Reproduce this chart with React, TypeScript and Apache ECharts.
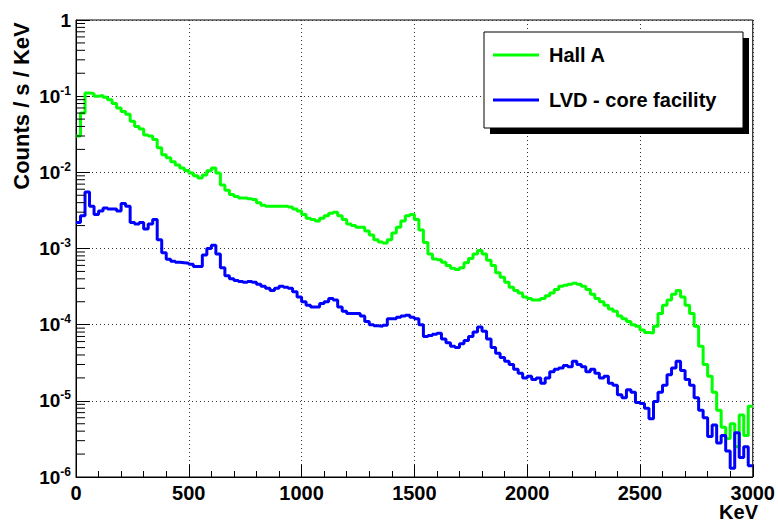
import React, { useEffect, useRef } from "react";
import * as echarts from "echarts";

const BIN_WIDTH = 20; // keV per bin, bins start at 0 keV

const hallA: number[] = [
  0.03, 0.06, 0.11, 0.108, 0.1, 0.102, 0.097, 0.09, 0.08, 0.07,
  0.063, 0.058, 0.047, 0.04, 0.037, 0.031, 0.03, 0.027, 0.021, 0.017,
  0.0155, 0.0138, 0.0125, 0.0114, 0.0106, 0.0098, 0.009, 0.0084, 0.0092, 0.0105,
  0.0114, 0.0098, 0.0068, 0.0058, 0.0051, 0.0048, 0.0046, 0.0046, 0.0045, 0.0044,
  0.004, 0.0037, 0.0036, 0.0036, 0.0036, 0.0036, 0.0036, 0.0035, 0.0033, 0.0031,
  0.0028, 0.0025, 0.0024, 0.0023, 0.0025, 0.0027, 0.0029, 0.003, 0.0027, 0.0024,
  0.0021, 0.002, 0.0019, 0.0019, 0.0017, 0.0015, 0.0013, 0.00122, 0.00118, 0.0013,
  0.0016, 0.0019, 0.0023, 0.0027, 0.0028, 0.0024, 0.00175, 0.0012, 0.00085, 0.00073,
  0.00071, 0.00066, 0.0006, 0.00055, 0.00053, 0.00056, 0.00065, 0.00074, 0.00085, 0.00094,
  0.00085, 0.0007, 0.0006, 0.00048, 0.00042, 0.00036, 0.00031, 0.00028, 0.00026, 0.00023,
  0.00022, 0.00021, 0.00021, 0.00022, 0.00024, 0.00026, 0.00029, 0.00032, 0.00033, 0.00034,
  0.00035, 0.00034, 0.00032, 0.00029, 0.00025, 0.00022, 0.0002, 0.00018, 0.00016, 0.00015,
  0.00013, 0.00012, 0.00011, 0.0001, 0.000095, 0.000085, 0.000079, 0.000078, 0.000095, 0.00014,
  0.00018, 0.00021, 0.00025, 0.00028, 0.00023, 0.00018, 0.00014, 0.000095, 0.000052, 0.00003,
  0.000021, 0.000013, 0.0000075, 0.0000045, 0.0000032, 0.000005, 0.0000025, 0.0000065, 0.0000035, 0.0000085,
];

const lvd: number[] = [
  0.0022, 0.0027, 0.0055, 0.0036, 0.0028, 0.0031, 0.0034, 0.0033, 0.0033, 0.0031,
  0.0039, 0.0036, 0.0022, 0.0021, 0.0022, 0.0018, 0.0021, 0.0024, 0.0013, 0.00088,
  0.00072, 0.00068, 0.00066, 0.00065, 0.00064, 0.00062, 0.00058, 0.00058, 0.00082, 0.001,
  0.0011, 0.00085, 0.00056, 0.00044, 0.0004, 0.00038, 0.00037, 0.00036, 0.00037, 0.00036,
  0.00034, 0.00032, 0.0003, 0.00028, 0.0003, 0.00032, 0.00031, 0.0003, 0.00027, 0.00023,
  0.0002, 0.00018, 0.00017, 0.00017, 0.00019, 0.0002, 0.00022, 0.00021, 0.00017, 0.00015,
  0.00014, 0.00014, 0.00014, 0.00013, 0.00011, 0.0001, 0.000097, 0.000095, 0.000098, 0.00012,
  0.00012, 0.000125, 0.00013, 0.000133, 0.000125, 0.00012, 0.0001, 0.00007, 0.000072, 0.000075,
  0.000077, 0.000065, 0.000058, 0.000052, 0.00005, 0.000056, 0.000062, 0.00007, 0.00008, 0.000093,
  0.000082, 0.000065, 0.00005, 0.000042, 0.000037, 0.000033, 0.00003, 0.000026, 0.000023, 0.00002,
  0.000021, 0.000019, 0.00002, 0.000017, 0.00002, 0.000024, 0.000026, 0.000027, 0.000029, 0.000028,
  0.000033, 0.00003, 0.000028, 0.000024, 0.000026, 0.000023, 0.00002, 0.000021, 0.000017, 0.000016,
  0.000012, 0.000011, 0.000014, 0.000013, 0.0000095, 0.0000092, 0.000008, 0.0000058, 0.0000098, 0.000013,
  0.000016, 0.000022, 0.000027, 0.000033, 0.000025, 0.000019, 0.000016, 0.000011, 0.0000075, 0.000006,
  0.0000034, 0.0000048, 0.0000028, 0.0000035, 0.0000022, 0.0000013, 0.0000038, 0.0000018, 0.0000025, 0.0000014,
];

const seriesNames = ["Hall A", "LVD - core facility"];
const seriesColors = ["#00ff00", "#0000ff"];
const xTicks = { min: 0, max: 3000, interval: 500 };
const yRange = { min: 1e-6, max: 1 };

const FONT = "'Liberation Sans', Arial, Helvetica, sans-serif";

function toSteps(values: number[]): [number, number][] {
  const pts: [number, number][] = values.map((v, i) => [i * BIN_WIDTH, v]);
  pts.push([values.length * BIN_WIDTH, values[values.length - 1]]);
  return pts;
}

function minorLogTicks(): [number, number][] {
  const out: [number, number][] = [];
  for (let e = -6; e < 0; e++) {
    for (let m = 2; m <= 9; m++) out.push([0, m * Math.pow(10, e)]);
  }
  return out;
}

export default function App() {
  const ref = useRef<HTMLDivElement>(null);
  useEffect(() => {
    if (!ref.current) return;
    const chart = echarts.init(ref.current, undefined, { renderer: "svg" });
    const option: any = {
      animation: false,
      backgroundColor: "#ffffff",
      grid: {
        left: 76,
        top: 20,
        right: 20,
        bottom: 46,
        show: true,
        borderColor: "#000",
        borderWidth: 1,
        backgroundColor: "transparent",
      },
      legend: {
        show: true,
        z: 30,
        data: seriesNames,
        orient: "vertical",
        left: 493,
        top: 45,
        padding: 0,
        itemWidth: 46,
        itemHeight: 3,
        itemGap: 25,
        icon: "rect",
        textStyle: {
          fontFamily: FONT,
          fontWeight: "bold",
          fontSize: 20,
          color: "#000",
          padding: [0, 0, 0, 5],
        },
        selectedMode: false,
      },
      xAxis: {
        type: "value",
        min: xTicks.min,
        max: xTicks.max,
        interval: xTicks.interval,
        axisLine: { show: true, onZero: false, lineStyle: { color: "#000", width: 1 } },
        axisTick: { show: true, inside: true, length: 12, lineStyle: { color: "#000" } },
        minorTick: { show: true, splitNumber: 5, length: 6, lineStyle: { color: "#000" } },
        axisLabel: {
          fontFamily: FONT,
          fontWeight: "bold",
          fontSize: 20,
          color: "#000",
          margin: 6,
          showMaxLabel: true,
          showMinLabel: true,
          formatter: (v: number) => String(v),
        },
        splitLine: { show: true, lineStyle: { color: "#333", type: [1, 3], width: 1 } },
      },
      yAxis: {
        type: "log",
        logBase: 10,
        min: yRange.min,
        max: yRange.max,
        splitNumber: 6,
        axisLine: { show: true, lineStyle: { color: "#000", width: 1 } },
        axisTick: { show: true, inside: true, length: 14, lineStyle: { color: "#000" } },
        axisLabel: {
          margin: 5,
          color: "#000",
          formatter: (v: number) => {
            const e = Math.round(Math.log10(v));
            if (e === 0) return "{b|1}";
            return "{b|10}{s|" + e + "}";
          },
          rich: {
            b: { fontFamily: FONT, fontWeight: "bold", fontSize: 19, color: "#000" },
            s: {
              fontFamily: FONT,
              fontWeight: "bold",
              fontSize: 12,
              color: "#000",
              padding: [0, 0, 11, 0],
            },
          },
        },
        splitLine: { show: true, lineStyle: { color: "#333", type: [1, 3], width: 1 } },
      },
      series: [
        {
          name: seriesNames[0],
          type: "line",
          step: "end",
          data: toSteps(hallA),
          symbol: "none",
          lineStyle: { color: seriesColors[0], width: 3 },
          itemStyle: { color: seriesColors[0] },
          clip: true,
          z: 3,
        },
        {
          name: seriesNames[1],
          type: "line",
          step: "end",
          data: toSteps(lvd),
          symbol: "none",
          lineStyle: { color: seriesColors[1], width: 3 },
          itemStyle: { color: seriesColors[1] },
          clip: true,
          z: 4,
        },
        {
          name: "minorTicks",
          type: "custom",
          silent: true,
          data: minorLogTicks(),
          renderItem: (_params: any, api: any) => {
            const p = api.coord([0, api.value(1)]);
            return {
              type: "line",
              shape: { x1: p[0], y1: p[1], x2: p[0] + 9, y2: p[1] },
              style: { stroke: "#000", lineWidth: 1 },
            };
          },
          z: 5,
        },
      ],
      graphic: [
        {
          type: "rect",
          shape: { x: 490, y: 38, width: 259, height: 96 },
          style: { fill: "#000" },
          z: 10,
        },
        {
          type: "rect",
          shape: { x: 484, y: 32, width: 259, height: 96 },
          style: { fill: "#fff", stroke: "#000", lineWidth: 1 },
          z: 11,
        },
        {
          type: "text",
          x: 21,
          y: 106,
          rotation: Math.PI / 2,
          style: {
            text: "Counts / s / KeV",
            fontFamily: FONT,
            fontWeight: "bold",
            fontSize: 22,
            fill: "#000",
            align: "center",
            verticalAlign: "middle",
          },
          z: 10,
        },
        {
          type: "text",
          x: 758,
          y: 512,
          style: {
            text: "KeV",
            fontFamily: FONT,
            fontWeight: "bold",
            fontSize: 20,
            fill: "#000",
            align: "right",
            verticalAlign: "middle",
          },
          z: 10,
        },
      ],
    };
    chart.setOption(option);
    return () => chart.dispose();
  }, []);
  return (
    <div
      ref={ref}
      style={{ position: "fixed", left: 0, top: 0, width: 778, height: 523, background: "#fff" }}
    />
  );
}
